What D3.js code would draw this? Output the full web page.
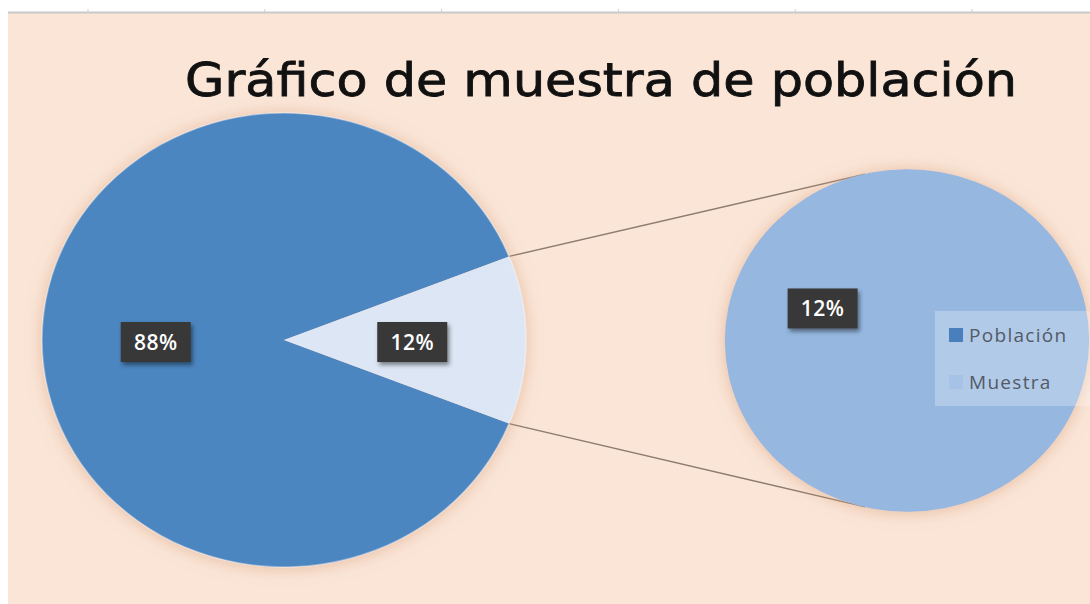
<!DOCTYPE html>
<html>
<head>
<meta charset="utf-8">
<script src="https://cdn.jsdelivr.net/npm/d3@7"></script>
<style>
  body { margin: 0; background: #ffffff; }
  svg { display: block; }
</style>
</head>
<body>
<svg id="chart" width="1090" height="604"></svg>
<script>
// chart title
const title = 'Gráfico de muestra de población'
// categories of the main pie
const categories = ['Población', 'Muestra']
// values of the main pie (percent)
const values = [88, 12]
// labels shown on the main pie
const labels = ['88%', '12%']
// values of the secondary pie (the sample, exploded)
const sampleValues = [12]
// labels shown on the secondary pie
const sampleLabels = ['12%']

function makePieOfPie() {
  // selecting svg container
  const svg = d3.select('#chart')
  const width = +svg.attr('width')
  const height = +svg.attr('height')

  // colours for each category
  const mainColor = d3.scaleOrdinal().domain(categories).range(['#4c86c0', '#dce6f4'])
  const legendColor = d3.scaleOrdinal().domain(categories).range(['#4a7fbd', '#a6c2e6'])
  const sampleColor = '#95b7e0'

  // filters: soft glow round the pies, shadow under label boxes
  const defs = svg.append('defs')
  defs.append('filter').attr('id', 'glow')
    .attr('x', '-20%').attr('y', '-20%').attr('width', '140%').attr('height', '140%')
    .append('feDropShadow')
    .attr('dx', 0).attr('dy', 1).attr('stdDeviation', 8)
    .attr('flood-color', '#d49b73').attr('flood-opacity', 0.55)
  defs.append('filter').attr('id', 'boxShadow')
    .attr('x', '-30%').attr('y', '-30%').attr('width', '160%').attr('height', '160%')
    .append('feDropShadow')
    .attr('dx', 2).attr('dy', 3).attr('stdDeviation', 2)
    .attr('flood-color', '#000').attr('flood-opacity', 0.45)

  // page background: white strip with ruler line, then peach chart area
  svg.append('rect')
    .attr('x', 8).attr('y', 13)
    .attr('width', width - 8).attr('height', height - 13)
    .attr('fill', '#fae5d7')
  svg.append('line')
    .attr('x1', 8).attr('x2', width).attr('y1', 12.5).attr('y2', 12.5)
    .attr('stroke', '#c9c9c9').attr('stroke-width', 2)
  // little ruler ticks along the top line
  const rulerX = d3.scaleLinear().domain([0, 5]).range([88, 972])
  svg.selectAll('.tick-mark')
    .data(d3.range(6))
    .enter()
    .append('line')
    .attr('class', 'tick-mark')
    .attr('x1', d => rulerX(d)).attr('x2', d => rulerX(d))
    .attr('y1', 9).attr('y2', 12)
    .attr('stroke', '#d0d0d0')

  // title
  svg.append('text')
    .attr('x', 601)
    .attr('y', 96)
    .attr('text-anchor', 'middle')
    .attr('font-family', '"Comic Sans MS", "DejaVu Sans", sans-serif')
    .attr('font-size', 46)
    .attr('textLength', 832)
    .attr('lengthAdjust', 'spacingAndGlyphs')
    .attr('fill', '#111')
    .attr('stroke', '#111')
    .attr('stroke-width', 0.8)
    .text(title)

  // geometry of the main pie (slightly stretched horizontally)
  const main = {cx: 284, cy: 340, rx: 242, ry: 227}
  // geometry of the secondary pie
  const second = {cx: 907, cy: 340.5, rx: 182, ry: 171}

  // main pie layout: the sample slice is centred on 3 o'clock
  const total = d3.sum(values)
  const half = Math.PI * values[1] / total
  const pie = d3.pie().sort(null)
    .startAngle(Math.PI / 2 + half)
    .endAngle(Math.PI / 2 + half + 2 * Math.PI)
  const arcs = pie(values)

  const arc = d3.arc().innerRadius(0).outerRadius(main.ry)
  const labelArc = d3.arc().innerRadius(main.ry * 0.53).outerRadius(main.ry * 0.53)

  // connector lines from the sample slice to the secondary pie
  const sampleArc = arcs[1]
  const secondTop = 346.7 * Math.PI / 180
  const secondBottom = 193.3 * Math.PI / 180
  const toMain = a => {
    const [x, y] = d3.pointRadial(a, main.ry)
    return [main.cx + x * main.rx / main.ry, main.cy + y]
  }
  const toSecond = a => {
    const [x, y] = d3.pointRadial(a, second.ry)
    return [second.cx + x * second.rx / second.ry, second.cy + y]
  }
  const connectors = [
    [toMain(sampleArc.startAngle), toSecond(secondTop)],
    [toMain(sampleArc.endAngle), toSecond(secondBottom)]
  ]
  svg.selectAll('.connector')
    .data(connectors)
    .enter()
    .append('line')
    .attr('class', 'connector')
    .attr('x1', d => d[0][0]).attr('y1', d => d[0][1])
    .attr('x2', d => d[1][0]).attr('y2', d => d[1][1])
    .attr('stroke', '#8c7b6e')
    .attr('stroke-width', 1.4)

  // main pie slices
  const mainGroup = svg.append('g')
    .attr('filter', 'url(#glow)')
    .append('g')
    .attr('transform', `translate(${main.cx},${main.cy}) scale(${main.rx / main.ry},1)`)
  mainGroup.selectAll('path')
    .data(arcs)
    .enter()
    .append('path')
    .attr('d', arc)
    .attr('fill', (d, i) => mainColor(categories[i]))
  // faint light rim
  mainGroup.append('circle')
    .attr('r', main.ry)
    .attr('fill', 'none')
    .attr('stroke', '#ffffff')
    .attr('stroke-opacity', 0.35)
    .attr('stroke-width', 1.5)

  // secondary pie: one slice, label placed up and left of its centre
  const labelAngle = 292 * Math.PI / 180
  const samplePie = d3.pie().sort(null)
    .startAngle(labelAngle - Math.PI)
    .endAngle(labelAngle + Math.PI)
  const sampleArcs = samplePie(sampleValues)
  const secondArc = d3.arc().innerRadius(0).outerRadius(second.ry)
  const secondLabelArc = d3.arc().innerRadius(second.ry * 0.5).outerRadius(second.ry * 0.5)
  const secondGroup = svg.append('g')
    .attr('filter', 'url(#glow)')
    .append('g')
    .attr('transform', `translate(${second.cx},${second.cy}) scale(${second.rx / second.ry},1)`)
  secondGroup.selectAll('path')
    .data(sampleArcs)
    .enter()
    .append('path')
    .attr('d', secondArc)
    .attr('fill', sampleColor)

  // data label component: dark box with white text
  function dataLabel(selection, x, y, text) {
    const g = selection.append('g')
      .attr('transform', `translate(${x},${y})`)
    g.append('rect')
      .attr('x', -35).attr('y', -20)
      .attr('width', 70).attr('height', 40)
      .attr('fill', '#383838')
      .attr('filter', 'url(#boxShadow)')
    g.append('text')
      .attr('text-anchor', 'middle')
      .attr('dy', '0.36em')
      .attr('font-family', '"Open Sans", sans-serif')
      .attr('font-weight', 600)
      .attr('font-size', 21)
      .attr('letter-spacing', 0.5)
      .attr('fill', '#ffffff')
      .text(text)
  }

  // labels on the main pie
  arcs.forEach((d, i) => {
    const [x, y] = labelArc.centroid(d)
    dataLabel(svg, main.cx + x * main.rx / main.ry, main.cy + y + 2, labels[i])
  })
  // label on the secondary pie
  sampleArcs.forEach((d, i) => {
    const [x, y] = secondLabelArc.centroid(d)
    dataLabel(svg, second.cx + x * second.rx / second.ry, second.cy + y, sampleLabels[i])
  })

  // legend
  const legend = svg.append('g')
    .attr('transform', 'translate(935,311)')
  legend.append('rect')
    .attr('width', 160).attr('height', 95)
    .attr('fill', '#ffffff')
    .attr('fill-opacity', 0.27)
  const legendY = d3.scalePoint().domain(categories).range([24, 71])
  const items = legend.selectAll('.item')
    .data(categories)
    .enter()
    .append('g')
    .attr('class', 'item')
    .attr('transform', d => `translate(14,${legendY(d)})`)
  items.append('rect')
    .attr('x', 0).attr('y', -7)
    .attr('width', 14).attr('height', 14)
    .attr('fill', d => legendColor(d))
  items.append('text')
    .attr('x', 20)
    .attr('dy', '0.36em')
    .attr('font-family', '"Open Sans", sans-serif')
    .attr('font-size', 19)
    .attr('letter-spacing', 1.3)
    .attr('fill', '#545a66')
    .text(d => d)
}

window.onload = makePieOfPie
</script>
</body>
</html>
